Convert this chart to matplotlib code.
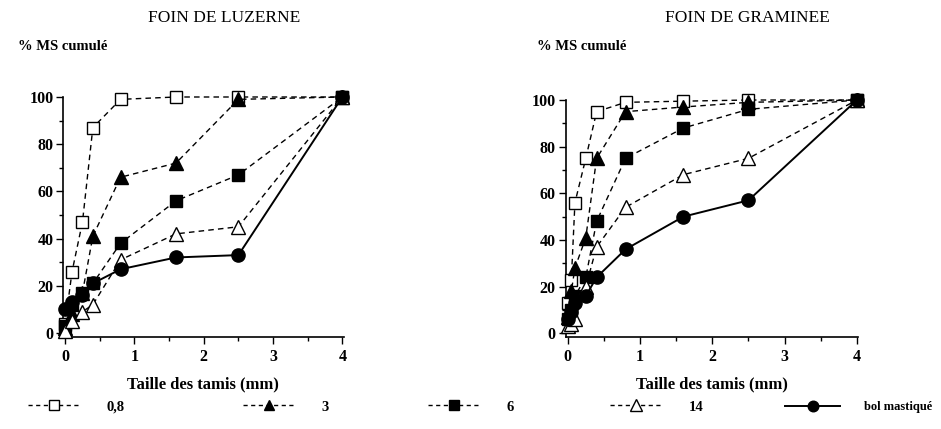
import matplotlib
matplotlib.use("Agg")
import matplotlib.pyplot as plt
from matplotlib.ticker import MultipleLocator
from matplotlib.lines import Line2D

# ---------------- data ----------------
x_luzerne = [0, 0.1, 0.25, 0.4, 0.8, 1.6, 2.5, 4]
luz_08 = [4, 26, 47, 87, 99, 100, 100, 100]
luz_3 = [2, 8, 17, 41, 66, 72, 99, 100]
luz_6 = [3, 12, 17, 21, 38, 56, 67, 100]
luz_14 = [1, 5, 9, 12, 31, 42, 45, 100]
luz_bol = [10, 13, 16, 21, 27, 32, 33, 100]

x_graminee = [0, 0.05, 0.1, 0.25, 0.4, 0.8, 1.6, 2.5, 4]
gra_08 = [13, 23, 56, 75, 95, 99, 99.5, 100, 100]
gra_3 = [7, 18, 28, 41, 75, 95, 97, 99, 100]
gra_6 = [6, 10, 16, 24, 48, 75, 88, 96, 100]
gra_14 = [3, 4, 6, 20, 37, 54, 68, 75, 100]
gra_bol = [6, 9, 13, 16, 24, 36, 50, 57, 100]

series_labels = ["0,8", "3", "6", "14", "bol mastiqué"]
panel_titles = ["FOIN DE LUZERNE", "FOIN DE GRAMINEE"]
y_label = "% MS cumulé"
x_label = "Taille des tamis (mm)"

# ---------------- styles ----------------
SERIF = ["Liberation Serif", "DejaVu Serif"]
plt.rcParams["font.family"] = SERIF

W, H = 941, 429
dash = (0, (4, 3))
styles = [
    dict(marker="s", mfc="white", mec="black", ls=dash),
    dict(marker="^", mfc="black", mec="black", ls=dash),
    dict(marker="s", mfc="black", mec="black", ls=dash),
    dict(marker="^", mfc="white", mec="black", ls=dash),
    dict(marker="o", mfc="black", mec="black", ls="-"),
]
msizes = [9, 9.5, 9, 10, 9.5]
lws = [1.0, 1.0, 1.0, 1.0, 1.4]

fig = plt.figure(figsize=(W / 100, H / 100), dpi=100)

panels = [
    (x_luzerne, [luz_08, luz_3, luz_6, luz_14, luz_bol], [0.0670, 0.2156, 0.2983, 0.5583], 224, 18),
    (x_graminee, [gra_08, gra_3, gra_6, gra_14, gra_bol], [0.6010, 0.2149, 0.3112, 0.5520], 747, 537),
]

for (xs, ys_list, rect, title_cx, ylab_x), title in zip(panels, panel_titles):
    ax = fig.add_axes(rect)
    for ys, st, ms, lw in zip(ys_list, styles, msizes, lws):
        ax.plot(xs, ys, color="black", lw=lw, linestyle=st["ls"], marker=st["marker"],
                markersize=ms, markerfacecolor=st["mfc"], markeredgecolor=st["mec"],
                markeredgewidth=1.0, clip_on=False, zorder=3)
    ax.set_xlim(-0.03, 4.02)
    ax.set_ylim(-1.5, 100)
    for s in ["top", "right"]:
        ax.spines[s].set_visible(False)
    for s in ["left", "bottom"]:
        ax.spines[s].set_linewidth(1.2)
    ax.xaxis.set_major_locator(MultipleLocator(1))
    ax.xaxis.set_minor_locator(MultipleLocator(0.5))
    ax.yaxis.set_major_locator(MultipleLocator(20))
    ax.yaxis.set_minor_locator(MultipleLocator(10))
    ax.tick_params(which="major", direction="out", length=5, width=1.0, labelsize=11.5)
    ax.tick_params(axis="x", which="major", pad=4)
    ax.tick_params(axis="y", which="major", pad=2)
    ax.tick_params(which="minor", direction="out", length=3, width=1.0)
    for lab in ax.get_xticklabels() + ax.get_yticklabels():
        lab.set_fontweight("bold")
    ax.set_xlabel(x_label, fontsize=12, fontweight="bold", labelpad=8)
    fig.text(title_cx / W, 1 - 18 / H, title, ha="center", va="center", fontsize=12.5)
    fig.text(ylab_x / W, 1 - 47 / H, y_label, ha="left", va="center",
             fontsize=10.5, fontweight="bold")

# ---------------- legend row ----------------
leg_x = [28 / W, 243 / W, 428 / W, 610 / W, 785 / W]
leg_fs = [10.5, 10.5, 10.5, 10.5, 9.0]
leg_hl = [3.5, 3.5, 3.5, 3.5, 4.4]
leg_pad = [1.9, 1.9, 1.9, 1.9, 1.9]
for i, (lab, st, ms, lw) in enumerate(zip(series_labels, styles, msizes, lws)):
    h = Line2D([], [], color="black", lw=lw, linestyle=(0, (3, 2.5)) if st["ls"] != "-" else "-",
               marker=st["marker"], markersize=ms * 0.8, markerfacecolor=st["mfc"],
               markeredgecolor=st["mec"], markeredgewidth=1.0)
    fig.legend(handles=[h], labels=[lab], loc="center left",
               bbox_to_anchor=(leg_x[i], 1 - 407 / H), frameon=False,
               handlelength=leg_hl[i], handletextpad=leg_pad[i], borderaxespad=0, borderpad=0,
               prop={"family": SERIF, "weight": "bold", "size": leg_fs[i]})

fig.savefig("out.png", dpi=100)
